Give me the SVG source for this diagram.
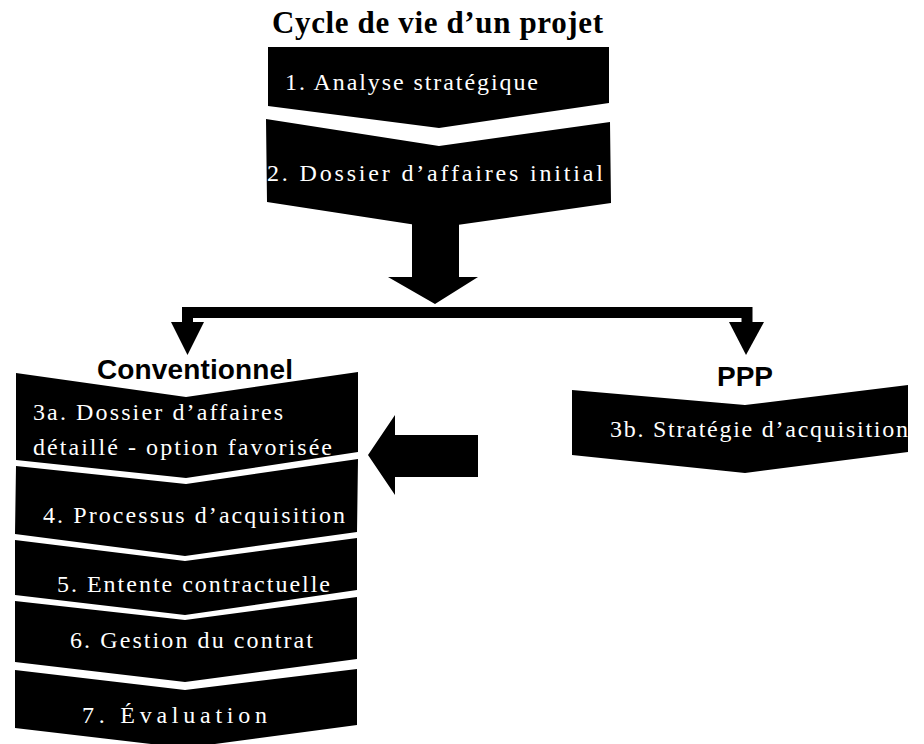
<svg xmlns="http://www.w3.org/2000/svg" width="924" height="744" viewBox="0 0 924 744">
<style>
.chev{fill:#000;}
.lbl{font-family:"Liberation Serif","Times New Roman",serif;font-size:24px;fill:#fff;}
.title{font-family:"Liberation Serif","Times New Roman",serif;font-size:31px;font-weight:bold;fill:#000;}
.head{font-family:"Liberation Sans",Arial,sans-serif;font-size:28px;font-weight:bold;fill:#000;}
.arr{fill:#000;}
</style>
<rect width="924" height="744" fill="#fff"/>
<text class="title" x="272" y="33" textLength="331">Cycle de vie d’un projet</text>

<g id="step1">
<polygon class="chev" points="268,47 609,47 609,103 439,128 268,106"/>
<text class="lbl" x="285" y="90" font-size="26" textLength="253">1. Analyse stratégique</text>
</g>
<g id="step2">
<polygon class="chev" points="266,119 439,146 610,122 611,203 436,228 267,202"/>
<text class="lbl" x="267" y="181" font-size="28" textLength="336">2. Dossier d’affaires initial</text>
</g>

<g id="connectors">
<polygon class="arr" points="412,205 459,205 459,277 478,277 435,304 388,277 412,277"/>
<polyline points="187.5,323 187.5,312.5 747,312.5 747,323" fill="none" stroke="#000" stroke-width="11"/>
<polygon class="arr" points="171,322 204,322 187.5,355"/>
<polygon class="arr" points="729,322 764,322 746,355"/>
<polygon class="arr" points="368,455 395,415 395,435 478,435 478,477 395,477 395,495"/>
</g>

<text class="head" x="97" y="379" textLength="196">Conventionnel</text>
<text class="head" x="745" y="386" text-anchor="middle">PPP</text>

<g id="step3a">
<polygon class="chev" points="16,373 186,397 358,372 358,452 186,478 16,460"/>
<text class="lbl" x="33" y="420" textLength="250">3a. Dossier d’affaires</text>
<text class="lbl" x="33" y="455" textLength="299">détaillé - option favorisée</text>
</g>
<g id="step3b">
<polygon class="chev" points="572,390 745,405 908,385 908,452 745,473 572,455"/>
<text class="lbl" x="610" y="437" font-size="25" textLength="298">3b. Stratégie d’acquisition</text>
</g>
<g id="step4">
<polygon class="chev" points="16,466 186,484 358,459 357,532 185,556 15,534"/>
<text class="lbl" x="43" y="523" textLength="302">4. Processus d’acquisition</text>
</g>
<g id="step5">
<polygon class="chev" points="15,540 185,561 357,538 357,590 185,615 15,595"/>
<text class="lbl" x="57" y="592" textLength="273">5. Entente contractuelle</text>
</g>
<g id="step6">
<polygon class="chev" points="15,601 185,620 357,597 357,659 185,682 15,662"/>
<text class="lbl" x="70" y="648" textLength="243">6. Gestion du contrat</text>
</g>
<g id="step7">
<polygon class="chev" points="15,670 185,690 357,669 357,725 185,748 15,728"/>
<text class="lbl" x="82" y="723" textLength="185">7. Évaluation</text>
</g>
</svg>
